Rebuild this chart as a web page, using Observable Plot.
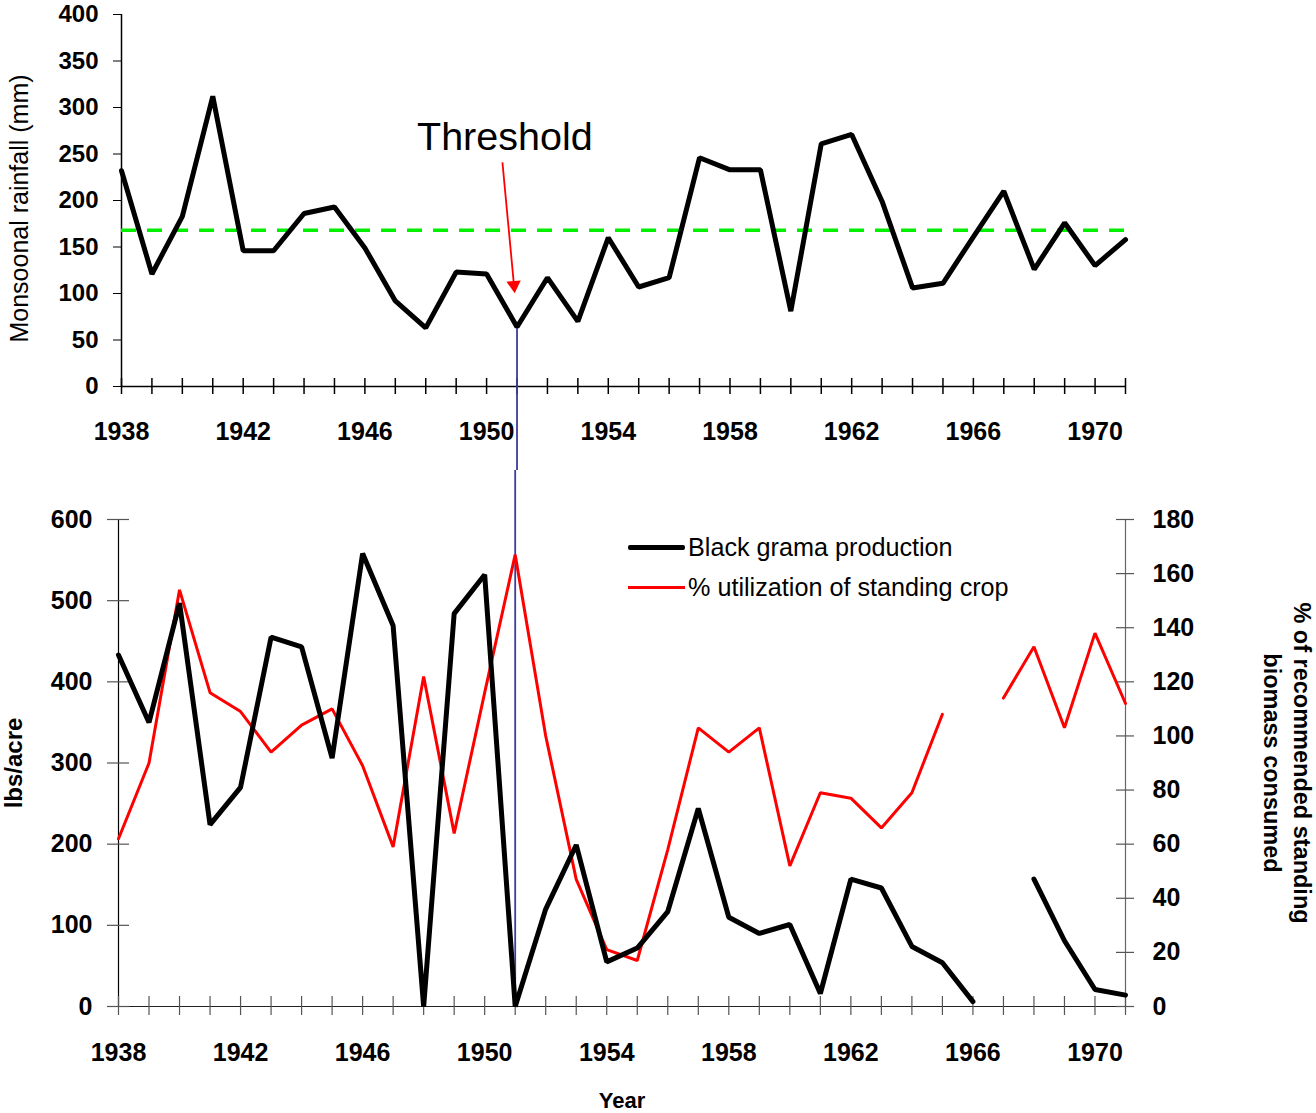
<!DOCTYPE html>
<html>
<head>
<meta charset="utf-8">
<script src="https://cdn.jsdelivr.net/npm/d3@7"></script>
<script src="https://cdn.jsdelivr.net/npm/@observablehq/plot@0.6"></script>
<style>
  html, body { margin: 0; padding: 0; background: white; }
  #wrap { position: relative; width: 1316px; height: 1113px; overflow: hidden; font-family: "Liberation Sans", Arial, sans-serif; }
  #wrap svg { display: block; }
  .legend { position: absolute; left: 628px; display: flex; align-items: center; font-size: 25.2px; color: #000; height: 30px; }
  .legend .sw { width: 57px; margin-right: 3px; }
</style>
</head>
<body>
<div id="wrap">
  <div id="topPanel"></div>
  <div id="bottomPanel"></div>
  <div class="legend" style="top:532px"><span class="sw" style="height:5px;background:#000;border-radius:2px"></span>Black grama production</div>
  <div class="legend" style="top:572px"><span class="sw" style="height:3px;background:#ff0000"></span>% utilization of standing crop</div>
</div>
<script>
const FONT = "Liberation Sans, Arial, sans-serif";

// ---- data ----
const years = [1938,1939,1940,1941,1942,1943,1944,1945,1946,1947,1948,1949,1950,1951,1952,1953,1954,1955,1956,1957,1958,1959,1960,1961,1962,1963,1964,1965,1966,1967,1968,1969,1970,1971];
const yearLabels = [1938,1942,1946,1950,1954,1958,1962,1966,1970];
const rainfall = [232,121,183,312,146,146,186,193,149,92,63,123,121,64,117,70,160,107,117,246,233,233,81,261,271,199,106,111,161,210,126,176,130,158];
const rainThreshold = 168;
const thresholdYear = 1951;
const grama = [433,350,497,224,270,455,443,306,558,469,0,484,532,0,120,199,55,72,117,244,110,90,101,16,157,146,74,54,6,null,157,81,21,14];
const utilization = [62,90,154,116,109,94,104,110,89,59,122,64,116,167,100,47,21,17,58,103,94,103,52,79,77,66,79,108,null,114,133,103,138,112];
const rainTicks = [0,50,100,150,200,250,300,350,400];
const gramaTicks = [0,100,200,300,400,500,600];
const pctTicks = [0,20,40,60,80,100,120,140,160,180];
// annotation
const annotText = "Threshold";
const annotTextPos = {year: 1950.6, value: 268};
const annotArrow = {year1: 1950.52, value1: 241, year2: 1950.9, value2: 109};

const rainData = years.map((y, i) => ({year: y, value: rainfall[i]}));
const gramaData = years.map((y, i) => ({year: y, value: grama[i]}));
const pctScale = 600 / 180;
const utilData = years.map((y, i) => ({year: y, value: utilization[i] == null ? null : utilization[i] * pctScale}));
const threshRain = rainfall[years.indexOf(thresholdYear)];

const topChart = Plot.plot({
  width: 1316, height: 470,
  marginLeft: 121, marginRight: 191, marginTop: 14, marginBottom: 84,
  x: {domain: [1938, 1971]},
  y: {domain: [0, 400]},
  style: {fontFamily: FONT, color: "#000", background: "white"},
  marks: [
    Plot.axisY(rainTicks, {tickSize: 8, tickPadding: 15, fontSize: 24, fontWeight: "bold", tickFormat: d => String(d), label: null}),
    Plot.axisX(yearLabels, {tickSize: 0, tickPadding: 36, fontSize: 25, fontWeight: "bold", tickFormat: d => String(d), label: null}),
    Plot.ruleX([1938], {stroke: "#000", strokeWidth: 1.5}),
    Plot.ruleY([0], {stroke: "#000", strokeWidth: 1.5}),
    Plot.ruleX(years, {x: d => d, y1: 0, y2: 0, insetTop: -8, insetBottom: -8, stroke: "#000", strokeWidth: 1.5}),
    Plot.ruleY([rainThreshold], {stroke: "#00ee00", strokeWidth: 3.5, strokeDasharray: "15,11"}),
    Plot.ruleX([thresholdYear], {y1: threshRain, y2: 0, insetBottom: -84, stroke: "#3c3ca0", strokeWidth: 1.8}),
    Plot.line(rainData, {x: "year", y: "value", stroke: "#000", strokeWidth: 5, strokeLinejoin: "miter"}),
    Plot.text([annotText], {x: annotTextPos.year, y: annotTextPos.value, fontSize: 39.5, fill: "#000"}),
    Plot.link([annotArrow], {x1: "year1", y1: "value1", x2: "year2", y2: "value2", stroke: "#ff0000", strokeWidth: 1.8}),
    Plot.dot([annotArrow], {x: "year2", y: "value2", symbol: "triangle", r: 5.3, fill: "#ff0000", stroke: null, rotate: 175}),
    Plot.text(["Monsoonal rainfall (mm)"], {frameAnchor: "left", textAnchor: "middle", dx: -102, dy: 8, rotate: -90, fontSize: 25, fill: "#000"})
  ]
});
document.getElementById("topPanel").appendChild(topChart);

const bottomChart = Plot.plot({
  width: 1316, height: 643,
  marginLeft: 118, marginRight: 191, marginTop: 49, marginBottom: 107,
  x: {domain: [1938, 1971]},
  y: {domain: [0, 600]},
  style: {fontFamily: FONT, color: "#000", background: "transparent"},
  marks: [
    Plot.axisY(gramaTicks, {anchor: "left", tickSize: 0, tickPadding: 26, fontSize: 25, fontWeight: "bold", tickFormat: d => String(d), label: null}),
    Plot.axisY(pctTicks.map(v => v * pctScale), {anchor: "right", tickSize: 0, tickPadding: 27, fontSize: 25, fontWeight: "bold", tickFormat: d => String(Math.round(d / pctScale)), label: null}),
    Plot.axisX(yearLabels, {tickSize: 0, tickPadding: 37, fontSize: 25, fontWeight: "bold", tickFormat: d => String(d), label: null}),
    Plot.ruleX([1938], {stroke: "#000", strokeWidth: 1.2}),
    Plot.ruleX([1971], {stroke: "#666", strokeWidth: 1.2}),
    Plot.ruleY([0], {stroke: "#222", strokeWidth: 1.2}),
    Plot.ruleX(years, {x: d => d, y1: 0, y2: 0, insetTop: -10, insetBottom: -9, stroke: "#555", strokeWidth: 1.2}),
    Plot.ruleY(gramaTicks, {y: d => d, x1: 1938, x2: 1938, insetLeft: -11, insetRight: -11, stroke: "#555", strokeWidth: 1.2}),
    Plot.ruleY(pctTicks.map(v => v * pctScale), {y: d => d, x1: 1971, x2: 1971, insetLeft: -9, insetRight: -9, stroke: "#555", strokeWidth: 1.2}),
    Plot.ruleX([thresholdYear], {y1: 600, y2: 0, insetTop: -49, stroke: "#3c3ca0", strokeWidth: 1.8}),
    Plot.line(utilData, {x: "year", y: "value", stroke: "#ff0000", strokeWidth: 3, strokeLinejoin: "miter"}),
    Plot.line(gramaData, {x: "year", y: "value", stroke: "#000", strokeWidth: 5, strokeLinejoin: "miter"}),
    Plot.text(["lbs/acre"], {frameAnchor: "left", textAnchor: "middle", dx: -104, rotate: -90, fontSize: 24, fontWeight: "bold", fill: "#000"}),
    Plot.text(["% of recommended standing\nbiomass consumed"], {frameAnchor: "right", textAnchor: "middle", dx: 163, rotate: 90, fontSize: 23.5, fontWeight: "bold", lineHeight: 1.25, fill: "#000"}),
    Plot.text(["Year"], {frameAnchor: "bottom", dy: 101, fontSize: 22, fontWeight: "bold", fill: "#000"})
  ]
});
document.getElementById("bottomPanel").appendChild(bottomChart);
</script>
</body>
</html>
